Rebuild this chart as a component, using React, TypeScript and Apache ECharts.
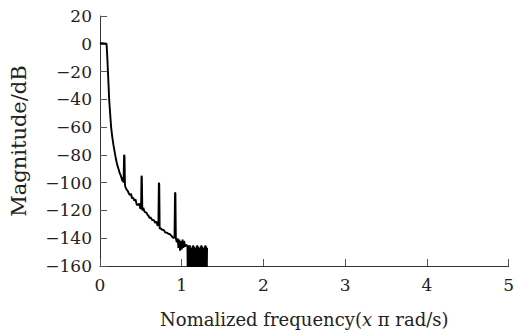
import React, { useEffect, useRef } from "react";
import * as echarts from "echarts";

const xTicks = [0, 1, 2, 3, 4, 5];
const yTicks = [20, 0, -20, -40, -60, -80, -100, -120, -140, -160];

const freqs = [
  0, 0.02, 0.05, 0.08, 0.088, 0.097, 0.105, 0.112, 0.124, 0.136,
  0.15, 0.165, 0.18, 0.195, 0.21, 0.226, 0.24, 0.255, 0.265, 0.275,
  0.283, 0.288, 0.295, 0.3, 0.305, 0.31, 0.326, 0.34, 0.355, 0.37,
  0.38, 0.39, 0.407, 0.42, 0.435, 0.45, 0.467, 0.48, 0.495, 0.503,
  0.508, 0.512, 0.518, 0.53, 0.545, 0.567, 0.58, 0.595, 0.607, 0.62,
  0.64, 0.66, 0.675, 0.69, 0.705, 0.715, 0.72, 0.725, 0.73, 0.745,
  0.76, 0.78, 0.8, 0.82, 0.84, 0.855, 0.87, 0.885, 0.9, 0.912,
  0.918, 0.923, 0.928, 0.94, 0.95, 0.96, 0.97, 0.98, 0.99, 1.0,
  1.01, 1.02, 1.03, 1.04, 1.05, 1.065,
  1.07, 1.075, 1.08, 1.085, 1.09, 1.095, 1.1, 1.105, 1.11, 1.115,
  1.12, 1.125, 1.13, 1.135, 1.14, 1.145, 1.15, 1.155, 1.16, 1.165,
  1.17, 1.175, 1.18, 1.185, 1.19, 1.195, 1.2, 1.205, 1.21, 1.215,
  1.22, 1.225, 1.23, 1.235, 1.24, 1.245, 1.25, 1.255, 1.26, 1.265,
  1.27, 1.275, 1.28, 1.285, 1.29, 1.295, 1.3, 1.305, 1.31,
];

const mags = [
  0, 0.5, 0.3, 0, -8, -20, -30, -40, -50, -60,
  -67, -73, -78, -83, -87, -90, -93, -95, -97, -99,
  -96, -100, -80, -81, -101, -103, -105, -106, -108, -109,
  -108, -111, -111, -113, -112, -116, -116, -115, -119, -117,
  -95, -96, -120, -118, -121, -121.5, -123, -124, -125.5, -125,
  -127, -127, -129, -128, -131, -130, -100, -101, -133, -133,
  -134, -134, -136, -136, -137, -137, -138, -139, -140, -139,
  -107, -108, -140, -143, -140, -147, -141, -149, -142, -148,
  -141, -147, -142, -146, -145, -145,
  -146, -172, -145, -175, -146, -170, -145, -174, -147, -171,
  -149, -175, -146, -172, -145, -176, -146, -170, -147, -173,
  -149, -174, -146, -171, -145, -175, -146, -172, -147, -170,
  -149, -176, -146, -173, -145, -171, -146, -175, -147, -172,
  -149, -174, -146, -171, -145, -175, -146, -172, -147,
];

const serif = "DejaVu Serif, Liberation Serif, serif";

function fmtY(v: number): string {
  return v < 0 ? "\u2212" + Math.abs(v) : String(v);
}

export default function App() {
  const ref = useRef<HTMLDivElement>(null);
  useEffect(() => {
    if (!ref.current) return;
    const chart = echarts.init(ref.current, undefined, { renderer: "svg" });
    const data = freqs.map((f, i) => [f, mags[i]]);
    chart.setOption({
      animation: false,
      backgroundColor: "#fff",
      textStyle: { fontFamily: serif },
      grid: { left: 98, right: 4.5, top: 16, bottom: 67 },
      xAxis: {
        type: "value",
        min: xTicks[0],
        max: xTicks[xTicks.length - 1],
        interval: 1,
        name: "{a|Nomalized frequency(}{i|x}{a| \u03c0 rad/s)}",
        nameLocation: "middle",
        nameGap: 44,
        nameTextStyle: {
          fontFamily: serif,
          rich: {
            a: { fontFamily: serif, fontSize: 18, color: "#222" },
            i: { fontFamily: serif, fontSize: 18, color: "#222", fontStyle: "italic" },
          },
        },
        axisLine: { onZero: false, lineStyle: { color: "#333", width: 1 } },
        axisTick: { inside: true, length: 7, lineStyle: { color: "#555" } },
        axisLabel: { fontFamily: serif, fontSize: 17, color: "#222", margin: 10 },
        splitLine: { show: false },
      },
      yAxis: {
        type: "value",
        min: yTicks[yTicks.length - 1],
        max: yTicks[0],
        interval: 20,
        name: "Magnitude/dB",
        nameLocation: "middle",
        nameGap: 71,
        nameTextStyle: { fontFamily: serif, fontSize: 21, color: "#222" },
        axisLine: { lineStyle: { color: "#333", width: 1 } },
        axisTick: { inside: true, length: 7, lineStyle: { color: "#555" } },
        axisLabel: { fontFamily: serif, fontSize: 17, color: "#222", margin: 8, formatter: fmtY },
        splitLine: { show: false },
      },
      series: [
        {
          type: "line",
          data,
          symbol: "none",
          clip: true,
          lineStyle: { color: "#000", width: 1.9 },
        },
      ],
    });
    return () => chart.dispose();
  }, []);
  return (
    <div
      ref={ref}
      style={{ position: "fixed", left: 0, top: 0, width: 517, height: 333, background: "#fff" }}
    />
  );
}
